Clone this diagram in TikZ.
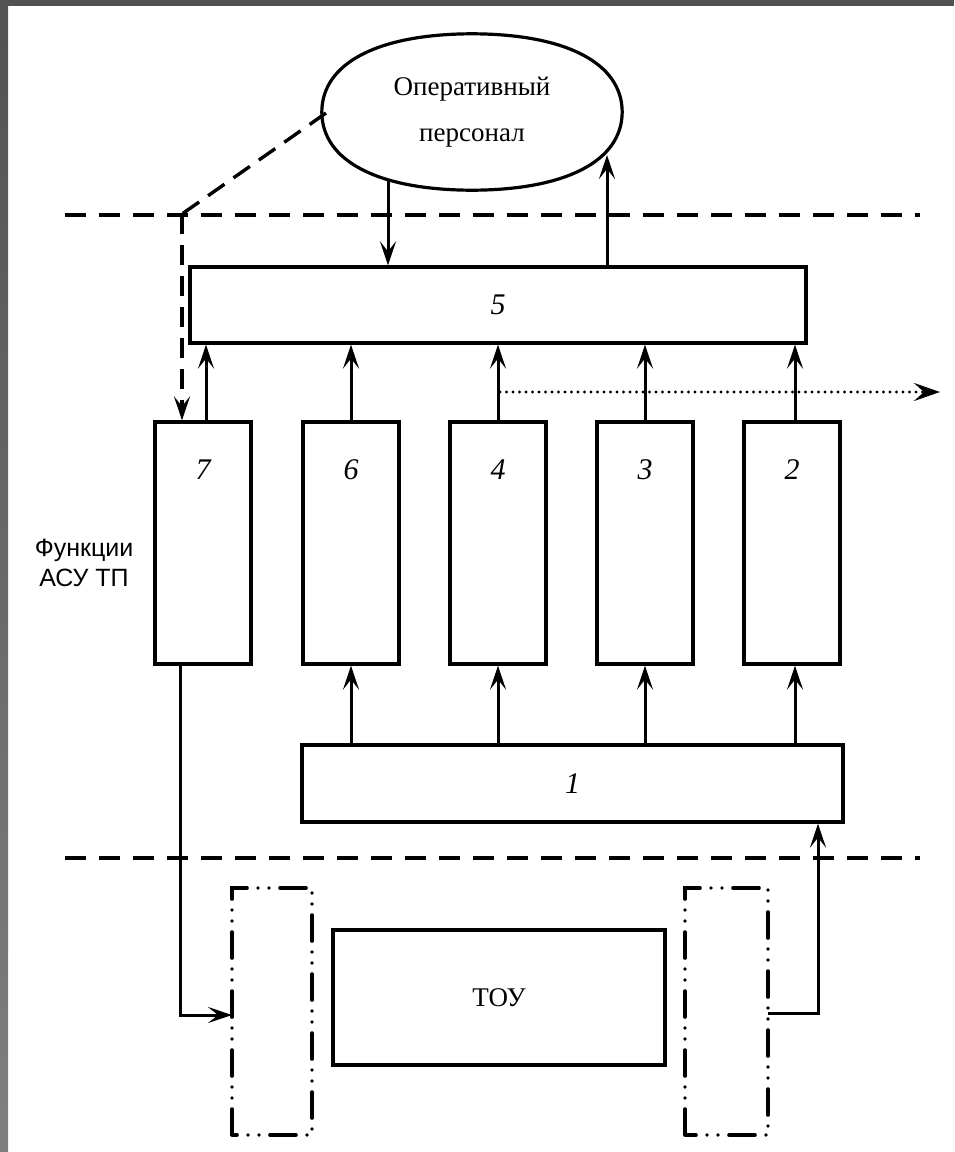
\documentclass[tikz,border=0pt]{standalone}
\usepackage{fontspec}
\setmainfont{Liberation Serif}
\newfontfamily\sansf{Liberation Sans}
\usetikzlibrary{arrows.meta,shapes.geometric}
\begin{document}
\begin{tikzpicture}[x=1pt,y=-1pt,
  box/.style={draw,line width=3.2pt,rectangle,inner sep=0pt},
  tip/.style={-{Stealth[length=24pt,width=16pt,inset=10pt]}},
  conn/.style={line width=3pt,tip},
  sepline/.style={line width=4pt,dash pattern=on 21pt off 13pt},
  ddot/.style={line width=3.6pt,line cap=round,dash pattern=on 26pt off 11pt on 0pt off 11pt on 0pt off 11pt},
  num/.style={font=\fontsize{30}{34}\selectfont\itshape}
]
\useasboundingbox (0,0) rectangle (954,1152);
\fill[white] (0,0) rectangle (954,1152);
\shade[top color=black!68,bottom color=black!50] (0,0) rectangle (8,1152);
\fill[black!68] (0,0) rectangle (954,6);

% ellipse (drawn as a slightly full oval)
\node[align=center,font=\fontsize{27}{46}\selectfont,inner sep=0pt,
  minimum width=300pt,minimum height=156pt] (op) at (472,112) {Оперативный\\персонал};
\draw[line width=3.2pt] (op.east) .. controls (622,161) and (566,190) .. (op.south)
  .. controls (378,190) and (322,161) .. (op.west)
  .. controls (322,63) and (378,34) .. (op.north)
  .. controls (566,34) and (622,63) .. (op.east) -- cycle;

% separator lines
\coordinate (sl1) at (65,215); \coordinate (sr1) at (920,215);
\draw[sepline] (sl1) -- (sr1);
\coordinate (sl2) at (65,858); \coordinate (sr2) at (920,858);
\draw[sepline] (sl2) -- (sr2);

% box 5
\node[box,minimum width=616pt,minimum height=76pt] (b5) at (498,305) {};
\node[num] at (b5.center) {5};

% column boxes
\foreach \n/\x in {7/203,6/351,4/498,3/645,2/792}{
  \node[box,minimum width=96pt,minimum height=242pt] (c\n) at (\x,543) {};
  \node[num] at (\x,470) {\n};
}
% box 1
\node[box,minimum width=541pt,minimum height=77pt] (b1) at (572.5,783.5) {};
\node[num] at (b1.center) {1};

% text
\node[font=\sansf\fontsize{25}{30}\selectfont,align=center] (fn) at (84,563) {Функции\\АСУ ТП};

% TOU
\node[box,minimum width=332pt,minimum height=135pt,font=\fontsize{27}{30}\selectfont] (tou) at (499,997.5) {ТОУ};

% dash-dot boxes
\draw[ddot] (232,1135) -- (232,888) -- (312,888) -- (312,1135) -- cycle;
\draw[ddot] (685,1135) -- (685,888) -- (768,888) -- (768,1135) -- cycle;
\coordinate (ldd) at (232,1015);
\coordinate (rdd) at (768,1013);

% arrows between ellipse and box 5
\coordinate (e1) at (388,180);
\coordinate (e2) at (607,155);
\draw[conn] (e1) -- (b5.north -| e1);
\draw[conn] (b5.north -| e2) -- (e2);

% dashed from ellipse to box 7
\coordinate (ew) at (326,113);
\coordinate (dk) at (182,214);
\draw[line width=3.4pt,dash pattern=on 20pt off 11pt] (ew) -- (dk);
\draw[line width=3.4pt,dash pattern=on 20pt off 11pt,tip] (dk) -- (c7.north -| dk);

% columns to box 5
\draw[conn] (c7.north -| 206,0) -- (b5.south -| 206,0);
\foreach \n/\x in {6/351,4/498,3/645,2/795}{
  \draw[conn] (c\n.north -| \x,0) -- (b5.south -| \x,0);
}
% box 1 to columns
\foreach \n/\x in {6/351,4/498,3/645,2/795}{
  \draw[conn] (b1.north -| \x,0) -- (c\n.south -| \x,0);
}
% dotted
\coordinate (dots) at (500,392);
\coordinate (dotend) at (940,392);
\draw[line width=3.4pt,line cap=round,dash pattern=on 0pt off 6.5pt,-{Stealth[length=26pt,width=18pt,inset=10pt,line cap=butt]}] (dots) -- (dotend);

% box 7 to left dash-dot box
\draw[conn] (c7.south -| 180,0) |- (ldd);
% right dash-dot box to box 1
\draw[conn] (rdd) -| (b1.south -| 818,0);
\end{tikzpicture}
\end{document}
